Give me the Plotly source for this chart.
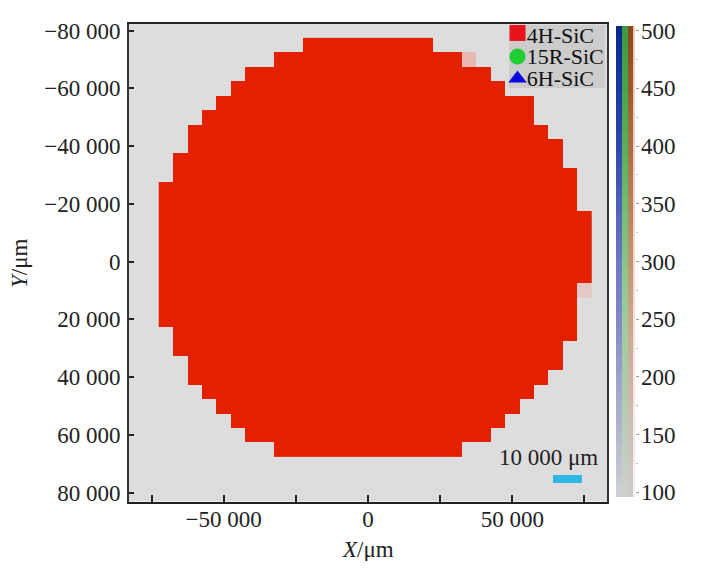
import plotly.graph_objects as go

# page keeps an 8 px body margin, so the figure sits inside it
W, H = 723, 569
PAGE = 8
FONT = "Liberation Serif"
TICK_SIZE = 23

# wafer map grid (cell centres, um)
grid_x = [-70000 + 5000 * i for i in range(30)]
grid_y = [-75000 + 5000 * i for i in range(29)]

# first and last filled cell centre for every row of the map
row_first = [-20000, -30000, -40000, -45000, -50000, -55000, -60000, -60000, -65000, -65000,
             -70000, -70000, -70000, -70000, -70000, -70000, -70000, -70000, -70000, -70000,
             -65000, -65000, -60000, -60000, -55000, -50000, -45000, -40000, -30000]
row_last = [20000, 30000, 40000, 45000, 55000, 55000, 60000, 65000, 65000, 70000,
            70000, 70000, 75000, 75000, 75000, 75000, 75000, 70000, 70000, 70000,
            70000, 65000, 65000, 60000, 55000, 50000, 45000, 40000, 30000]
row_value = 500

# the two faint cells: x, y, value
faint_x = [35000, 75000]
faint_y = [-70000, 10000]
faint_value = [170, 140]

z = []
for y, first, last in zip(grid_y, row_first, row_last):
    z.append([row_value if first <= x <= last else None for x in grid_x])
for x, y, v in zip(faint_x, faint_y, faint_value):
    z[grid_y.index(y)][grid_x.index(x)] = v

# legend
phase_names = ["4H-SiC", "15R-SiC", "6H-SiC"]
phase_symbols = ["square", "circle", "triangle-up"]
phase_colors = ["#E8141C", "#22CC33", "#0A0ADC"]
phase_x = [51800, 51800, 51800]
phase_y = [-79200, -71000, -63400]
phase_text_x = [55000, 55000, 55000]
phase_text_y = [-77800, -70200, -62700]

x_ticks = [-75000, -50000, -25000, 0, 25000, 50000, 75000]
x_labels = ["", "\u221250 000", "", "0", "", "50 000", ""]
y_ticks = [-80000, -60000, -40000, -20000, 0, 20000, 40000, 60000, 80000]
y_labels = ["\u221280 000", "\u221260 000", "\u221240 000", "\u221220 000", "0",
            "20 000", "40 000", "60 000", "80 000"]

# colour bar strips, from 100 to 500 (left and right edge of each strip)
bar_levels = list(range(90, 515, 5))
bar_ticks = [100, 150, 200, 250, 300, 350, 400, 450, 500]
bar_strips = [
    ([0, 6], ["#CDCFD2", "#B4B8CC", "#9CA2CC", "#8088C4", "#6C78C0", "#5060B4", "#3048A8", "#1C389C", "#0A2A8A"]),
    ([6, 12], ["#CDD0CC", "#BCCEBC", "#A8CCA8", "#9CCC9C", "#88C488", "#70BC70", "#58B058", "#48A44C", "#3C9A44"]),
    ([12, 17], ["#CFCBC8", "#CCC0B8", "#CCB4A4", "#C8A88C", "#C09470", "#B4825C", "#A87044", "#985C2C", "#8A4A1C"]),
    ([17, 18.5], ["#F4F0F0", "#F8E8E8", "#F8E0E0", "#F8D8D4", "#F8D0C4", "#FAC8B8", "#FAC4B0", "#FAC0A8", "#FABCA4"]),
]


def px_x(p):
    return (p - PAGE) / (W - 2 * PAGE)


def px_y(p):
    return 1 - (p - PAGE) / (H - 2 * PAGE)


fig = go.Figure()

fig.add_trace(go.Heatmap(x=grid_x, y=grid_y, z=z, zmin=100, zmax=500,
                         colorscale=[[0, "#DDDDDD"], [0.2, "#E8B4AC"], [1, "#E32000"]],
                         showscale=False, hoverongaps=False))

for symbol, color, lx, ly in zip(phase_symbols, phase_colors, phase_x, phase_y):
    fig.add_trace(go.Scatter(x=[lx], y=[ly], mode="markers",
                             marker=dict(symbol=symbol, size=16, color=color),
                             showlegend=False, cliponaxis=False))

fig.add_trace(go.Scatter(x=phase_text_x, y=phase_text_y, mode="text", text=phase_names,
                         textposition="middle right",
                         textfont=dict(family=FONT, size=22, color="#111111"),
                         showlegend=False, cliponaxis=False))

for edges, colors in bar_strips:
    scale = [[i / (len(colors) - 1), c] for i, c in enumerate(colors)]
    fig.add_trace(go.Heatmap(x=edges, y=bar_levels, z=[[v] for v in bar_levels],
                             zmin=100, zmax=500, colorscale=scale, showscale=False,
                             xaxis="x2", yaxis="y2"))

fig.update_layout(
    width=W - 2 * PAGE, height=H - 2 * PAGE, autosize=False,
    margin=dict(l=0, r=0, t=0, b=0),
    paper_bgcolor="white",
    plot_bgcolor="#DDDDDD",
    showlegend=False,
    font=dict(family=FONT, size=TICK_SIZE, color="#222222"),
    xaxis=dict(domain=[px_x(129), px_x(607)], range=[-82800, 82800], showgrid=False, zeroline=False,
               tickmode="array", tickvals=x_ticks, ticktext=x_labels, ticks="inside", ticklen=7,
               tickwidth=1.5, tickcolor="#222222", showline=True, linecolor="#222222", linewidth=1.5,
               mirror=True, automargin=False, ticklabelstandoff=-4),
    yaxis=dict(domain=[px_y(501.5), px_y(24)], range=[83100, -82300], showgrid=False, zeroline=False,
               tickmode="array", tickvals=y_ticks, ticktext=y_labels, ticks="inside", ticklen=5,
               tickwidth=1.5, tickcolor="#222222", showline=True, linecolor="#333333", linewidth=2,
               mirror=True, automargin=False, ticklabelstandoff=2),
    xaxis2=dict(domain=[px_x(616), px_x(634.5)], range=[0, 18.5], anchor="y2", showgrid=False,
                zeroline=False, showticklabels=False, ticks="", fixedrange=True),
    yaxis2=dict(domain=[px_y(497), px_y(26)], range=[96, 504], anchor="x2", side="right", showgrid=False,
                zeroline=False, tickmode="array", tickvals=bar_ticks, ticks="outside", ticklen=3,
                tickwidth=1, tickcolor="#999999", minor=dict(dtick=25, ticks="outside", ticklen=2, tickcolor="#BBBBBB"),
                automargin=False, showline=False, ticklabelstandoff=-2),
    shapes=[
        # grey box behind the legend
        dict(type="rect", xref="paper", yref="paper", x0=px_x(509), x1=px_x(605), y0=px_y(88), y1=px_y(25),
             fillcolor="#CCCCCC", line_width=0, layer="below"),
        # scale bar, 10 000 um long
        dict(type="rect", xref="x", yref="y", x0=64100, x1=74100, y0=73900, y1=76700,
             fillcolor="#2FB6E6", line_width=0),
    ],
    annotations=[
        dict(text="10 000 \u03bcm", xref="x", yref="y", x=62500, y=67800, showarrow=False,
             font=dict(family=FONT, size=TICK_SIZE, color="#222222")),
        dict(text="<i>X</i>/\u03bcm", xref="paper", yref="paper", x=px_x(368), y=px_y(549), showarrow=False,
             xanchor="center", yanchor="middle", font=dict(family=FONT, size=TICK_SIZE, color="#222222")),
        dict(text="<i>Y</i>/\u03bcm", xref="paper", yref="paper", x=px_x(19), y=px_y(263), showarrow=False,
             xanchor="center", yanchor="middle", textangle=-90,
             font=dict(family=FONT, size=TICK_SIZE, color="#222222")),
    ],
)

fig.write_html("out.html")
